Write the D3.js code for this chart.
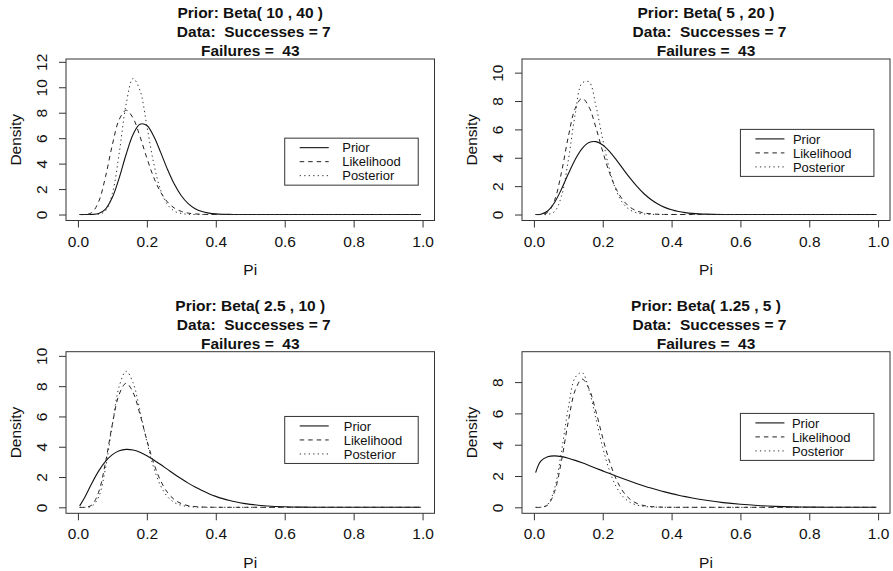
<!DOCTYPE html>
<html>
<head>
<meta charset="utf-8">
<script src="https://cdn.jsdelivr.net/npm/d3@7"></script>
<style>
  body { margin: 0; background: #fff; }
  svg text { font-family: "Liberation Sans", Arial, Helvetica, sans-serif; fill: #111; white-space: pre; }
</style>
</head>
<body>
<svg id="chart" width="893" height="571"></svg>
<script>
// Prior / likelihood / posterior densities, 2x2 panels (R base-graphics look).

// --- data ---
const xs = [0.005, 0.02, 0.04, 0.06, 0.08, 0.10, 0.12, 0.14, 0.16, 0.18, 0.20, 0.22, 0.24,
  0.26, 0.28, 0.30, 0.32, 0.34, 0.36, 0.38, 0.40, 0.42, 0.44, 0.46, 0.48, 0.50,
  0.55, 0.60, 0.65, 0.70, 0.75, 0.80, 0.85, 0.90, 0.95, 0.995];

// same data in every panel: 7 successes, 43 failures
const likelihood = [0, 0.003, 0.144, 0.997, 2.963, 5.489, 7.482, 8.193, 7.584, 6.138, 4.439, 2.912, 1.752,
  0.975, 0.504, 0.243, 0.110, 0.047, 0.019, 0.007, 0.002, 0.001, 0, 0, 0, 0,
  0, 0, 0, 0, 0, 0, 0, 0, 0, 0];

const prior1 = [0, 0, 0.004, 0.074, 0.427, 1.349, 2.898, 4.736, 6.290, 7.095, 6.994, 6.143, 4.881,
  3.544, 2.371, 1.471, 0.849, 0.457, 0.230, 0.109, 0.048, 0.020, 0.008, 0.003, 0.001, 0,
  0, 0, 0, 0, 0, 0, 0, 0, 0, 0];
const posterior1 = [0, 0, 0, 0.017, 0.284, 1.660, 4.859, 8.696, 10.690, 9.759, 6.957, 4.009, 1.917,
  0.774, 0.268, 0.080, 0.021, 0.005, 0.001, 0, 0, 0, 0, 0, 0, 0,
  0, 0, 0, 0, 0, 0, 0, 0, 0, 0];

const prior2 = [0, 0.023, 0.251, 0.850, 1.785, 2.870, 3.883, 4.649, 5.071, 5.139, 4.901, 4.435, 3.834,
  3.181, 2.542, 1.962, 1.464, 1.058, 0.741, 0.503, 0.332, 0.212, 0.131, 0.078, 0.045, 0.025,
  0.005, 0.001, 0, 0, 0, 0, 0, 0, 0, 0];
const posterior2 = [0, 0, 0.009, 0.206, 1.287, 3.832, 7.067, 9.265, 9.355, 7.672, 5.292, 3.142, 1.634,
  0.754, 0.312, 0.116, 0.039, 0.012, 0.003, 0.001, 0, 0, 0, 0, 0, 0,
  0, 0, 0, 0, 0, 0, 0, 0, 0, 0];

const prior3 = [0.096, 0.669, 1.572, 2.389, 3.031, 3.476, 3.732, 3.824, 3.780, 3.631, 3.406, 3.129, 2.822,
  2.503, 2.186, 1.881, 1.597, 1.337, 1.104, 0.900, 0.723, 0.574, 0.448, 0.346, 0.262, 0.196,
  0.088, 0.035, 0.012, 0.003, 0.001, 0, 0, 0, 0, 0];
const posterior3 = [0, 0.001, 0.065, 0.683, 2.576, 5.472, 8.009, 8.987, 8.223, 6.393, 4.337, 2.613, 1.418,
  0.700, 0.316, 0.131, 0.050, 0.018, 0.006, 0.002, 0.001, 0, 0, 0, 0, 0,
  0, 0, 0, 0, 0, 0, 0, 0, 0, 0];

const prior4 = [2.215, 2.948, 3.228, 3.284, 3.238, 3.135, 2.999, 2.843, 2.676, 2.503, 2.328, 2.154, 1.984,
  1.820, 1.661, 1.510, 1.367, 1.231, 1.104, 0.986, 0.876, 0.774, 0.681, 0.595, 0.517, 0.447,
  0.300, 0.192, 0.115, 0.063, 0.031, 0.013, 0.004, 0.001, 0, 0];
const posterior4 = [0, 0.003, 0.172, 1.210, 3.546, 6.361, 8.295, 8.612, 7.502, 5.678, 3.819, 2.319, 1.285,
  0.656, 0.309, 0.136, 0.056, 0.021, 0.008, 0.003, 0.001, 0, 0, 0, 0, 0,
  0, 0, 0, 0, 0, 0, 0, 0, 0, 0];

const priors = [prior1, prior2, prior3, prior4];
const posteriors = [posterior1, posterior2, posterior3, posterior4];
const priorParams = ["10 , 40", "5 , 20", "2.5 , 10", "1.25 , 5"];
const successes = 7, failures = 43;
const yLimTop = [11.75, 10.54, 9.88, 9.56];   // ylim upper = 1.1 * posterior peak
const xTicks = [0, 0.2, 0.4, 0.6, 0.8, 1.0];
const legendLabels = ["Prior", "Likelihood", "Posterior"];
const legendAt = [0.6, 6];                     // legend top-left in data units

// --- layout (plot boxes in px) ---
const boxes = [
  { left: 66, right: 434.5, top: 59, bottom: 220.5, legendTextDx: 57.5 },
  { left: 522, right: 890, top: 59, bottom: 220.5, legendTextDx: 52.5 },
  { left: 66, right: 434.5, top: 351.7, bottom: 513.3, legendTextDx: 59 },
  { left: 522, right: 890, top: 351.7, bottom: 513.3, legendTextDx: 51.5 },
];
const styles = [
  { dash: null, width: 1.1, color: "#111" },
  { dash: "4.5,4", width: 1, color: "#222" },
  { dash: "1.3,3.2", width: 1, color: "#333" },
];
const axisColor = "#333";

const svg = d3.select("#chart");
svg.append("rect").attr("width", 893).attr("height", 571).attr("fill", "#fff");

function drawPanel(p, i) {
  const g = svg.append("g");
  const x0 = xs[0], x1 = xs[xs.length - 1], pad = 0.04 * (x1 - x0);
  const x = d3.scaleLinear().domain([x0 - pad, x1 + pad]).range([p.left, p.right]);
  const top = yLimTop[i];
  const y = d3.scaleLinear().domain([-0.04 * top, 1.04 * top]).range([p.bottom, p.top]);

  // curves
  const line = d3.line().x((d, j) => x(xs[j])).y((d) => y(d)).curve(d3.curveCatmullRom);
  [priors[i], likelihood, posteriors[i]].forEach((vals, k) => {
    g.append("path").datum(vals)
      .attr("fill", "none")
      .attr("stroke", styles[k].color)
      .attr("stroke-width", styles[k].width)
      .attr("stroke-dasharray", styles[k].dash)
      .attr("d", line);
  });

  // x axis
  const ax = g.append("g").attr("transform", `translate(0,${p.bottom})`)
    .call(d3.axisBottom(x).tickValues(xTicks).tickFormat(d3.format(".1f")).tickSize(7));
  ax.select(".domain").remove();
  ax.selectAll("line").attr("stroke", axisColor);
  ax.selectAll("text").attr("y", 26).attr("dy", 0)
    .attr("font-size", 15.5).attr("font-family", null).attr("fill", "#111");

  // y axis, labels parallel to the axis
  const ay = g.append("g").attr("transform", `translate(${p.left},0)`)
    .call(d3.axisLeft(y).ticks(5).tickSize(7));
  ay.select(".domain").remove();
  ay.selectAll("line").attr("stroke", axisColor);
  ay.selectAll("text").attr("transform", "rotate(-90)")
    .attr("x", 0).attr("y", -19.5).attr("dy", 0).attr("text-anchor", "middle")
    .attr("font-size", 15.5).attr("font-family", null).attr("fill", "#111");

  // box
  g.append("rect")
    .attr("x", p.left).attr("y", p.top)
    .attr("width", p.right - p.left).attr("height", p.bottom - p.top)
    .attr("fill", "none").attr("stroke", axisColor).attr("stroke-width", 1);

  // axis titles
  const cx = (p.left + p.right) / 2;
  g.append("text").attr("x", cx).attr("y", p.bottom + 54.5)
    .attr("text-anchor", "middle").attr("font-size", 15.5).text("Pi");
  g.append("text")
    .attr("transform", `translate(${p.left - 45},${(p.top + p.bottom) / 2}) rotate(-90)`)
    .attr("text-anchor", "middle").attr("font-size", 15.5).text("Density");

  // main title, three lines
  const titleLines = [
    { text: `Prior: Beta( ${priorParams[i]} )`, dy: -40.6, dx: 0 },
    { text: `Data:  Successes = ${successes}`, dy: -21.8, dx: 3.5 },
    { text: `Failures =  ${failures}`, dy: -3, dx: 0 },
  ];
  titleLines.forEach((t) => {
    g.append("text").attr("x", cx + t.dx).attr("y", p.top + t.dy)
      .attr("text-anchor", "middle").attr("font-size", 15.5).attr("font-weight", "bold")
      .attr("xml:space", "preserve").text(t.text);
  });

  // legend
  const lx = x(legendAt[0]), ly = y(legendAt[1]);
  const lg = g.append("g").attr("transform", `translate(${lx},${ly})`);
  lg.append("rect").attr("width", 133.5).attr("height", 47)
    .attr("fill", "#fff").attr("stroke", axisColor).attr("stroke-width", 1);
  legendLabels.forEach((lab, k) => {
    const ry = 9.5 + k * 14;
    lg.append("line").attr("x1", 15).attr("x2", 44).attr("y1", ry).attr("y2", ry)
      .attr("stroke", styles[k].color).attr("stroke-width", styles[k].width)
      .attr("stroke-dasharray", styles[k].dash);
    lg.append("text").attr("x", p.legendTextDx).attr("y", ry + 4.7)
      .attr("font-size", 13).text(lab);
  });
}

boxes.forEach(drawPanel);
</script>
</body>
</html>
